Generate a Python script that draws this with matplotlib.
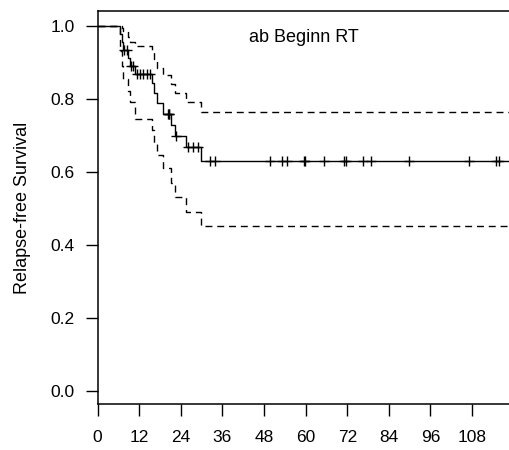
import numpy as np
import matplotlib
matplotlib.use("Agg")
from matplotlib import pyplot as plt

plt.rcParams['font.family'] = ['Liberation Sans', 'DejaVu Sans']

# Kaplan-Meier estimate (months from start of RT), with pointwise 95% CI
event_times = [6.4, 6.9, 7.4, 8.8, 9.3, 10.8, 15.6, 16.2, 17.2, 18.7, 21.2, 22.3, 25.5, 29.7]
surv = [0.978, 0.956, 0.933, 0.911, 0.889, 0.867, 0.843, 0.816, 0.788, 0.758, 0.727, 0.698, 0.668, 0.630]
upper = [1.0, 0.995, 0.985, 0.97, 0.955, 0.945, 0.93, 0.91, 0.885, 0.865, 0.84, 0.815, 0.79, 0.764]
lower = [0.93, 0.89, 0.855, 0.82, 0.79, 0.745, 0.715, 0.68, 0.645, 0.61, 0.57, 0.53, 0.49, 0.452]
censor_times = [7.7, 8.4, 9.6, 10.2, 11.4, 12.2, 13.2, 14.1, 15.0, 20.2, 20.5, 20.7, 22.6,
                26.1, 27.6, 29.0, 32.4, 33.8, 49.7, 53.1, 54.7, 59.5, 59.8, 65.3, 71.0,
                71.6, 76.4, 78.8, 89.7, 107.0, 114.9, 115.8]
last_followup = 121
xticks = [0, 12, 24, 36, 48, 60, 72, 84, 96, 108]
yticks = [0.0, 0.2, 0.4, 0.6, 0.8, 1.0]

t = np.r_[0, event_times, last_followup]
def steps(v):
    return np.r_[1.0, v, v[-1]]

fig = plt.figure(figsize=(5.09, 4.5), dpi=100)
ax = fig.add_axes([0.1919, 0.1022, 0.8173, 0.8734])

ax.step(t, steps(surv), where='post', color='black', lw=1.0)
for ci in (upper, lower):
    l, = ax.step(t, steps(ci), where='post', color='black', lw=1.0)
    l.set_dashes((5, 3.5))

# censored observations
idx = np.searchsorted(event_times, censor_times, side='right')
s_cens = np.r_[1.0, surv][idx]
ax.plot(censor_times, s_cens, ls='none', marker='+', ms=7.5, mew=1.0, color='black')

ax.text(59.5, 0.969, 'ab Beginn RT', ha='center', va='center', fontsize=13)

ax.set_xlim(0, 120)
ax.set_ylim(-0.0364, 1.0403)
ax.set_xticks(xticks)
ax.set_yticks(yticks)
ax.set_yticklabels(['%.1f' % v for v in yticks])
ax.tick_params(direction='out', length=8.5, width=1.0, labelsize=12.5)
ax.tick_params(axis='x', pad=10)
ax.tick_params(axis='y', pad=8)
ax.set_ylabel('Relapse-free Survival', fontsize=13, labelpad=14)
for sp in ax.spines.values():
    sp.set_linewidth(1.1)

fig.savefig('out.png', dpi=100)
